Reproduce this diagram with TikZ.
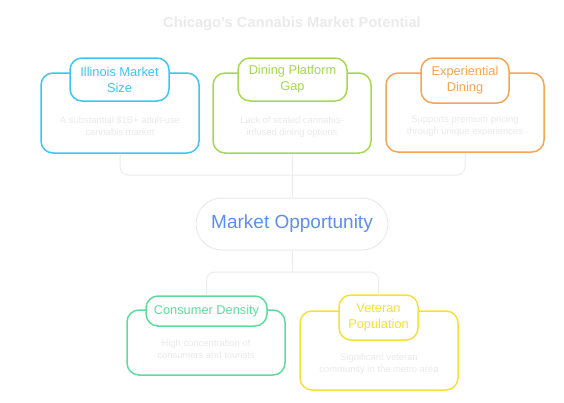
\documentclass[tikz,border=0pt]{standalone}
\usepackage{fontspec}
\setmainfont{Liberation Sans}
\definecolor{cyanc}{HTML}{3CC6F2}
\definecolor{greenc}{HTML}{A6D94C}
\definecolor{orangec}{HTML}{F7A455}
\definecolor{mintc}{HTML}{5FDC9C}
\definecolor{yellowc}{HTML}{F8E03A}
\definecolor{bluec}{HTML}{5B8FF5}
\definecolor{linec}{HTML}{EBEBEB}
\definecolor{paletext}{HTML}{EAEAEA}
\tikzset{
  bigbox/.style={draw=#1, line width=1.5pt, rounded corners=12pt, fill=white},
  pill/.style={draw=#1, text=#1, line width=1.5pt, rounded corners=12pt, fill=white,
    align=center, font=\fontsize{12.8}{16}\selectfont, inner sep=0pt},
  desc/.style={text=paletext, align=center, font=\fontsize{9.4}{12}\selectfont},
  conn/.style={draw=linec, line width=1pt, rounded corners=8pt},
}
\begin{document}
\begin{tikzpicture}[x=1pt,y=-1pt]
        \useasboundingbox (0,0) rectangle (564,402);
        \node[text=paletext, font=\bfseries\fontsize{14.7}{17}\selectfont] (T) at (292,24) {Chicago's Cannabis Market Potential};
        % top row
        \node[bigbox=cyanc, minimum width=158pt, minimum height=80pt] (IB) at (120,113) {};
        \node[bigbox=greenc, minimum width=158pt, minimum height=80pt] (DB) at (292,113) {};
        \node[bigbox=orangec, minimum width=158pt, minimum height=79pt] (EB) at (465,112.5) {};
        \node[desc] (ID) at (120,126) {A substantial \$1B+ adult-use\\cannabis market};
        \node[desc] (DD) at (292,127) {Lack of scaled cannabis-\\infused dining options};
        \node[desc] (ED) at (465,126) {Supports premium pricing\\through unique experiences};
        \node[pill=cyanc, minimum width=99pt, minimum height=43pt] (IP) at (119.5,79.5) {Illinois Market\\Size};
        \node[pill=greenc, minimum width=109pt, minimum height=43pt] (DP) at (292.5,79.5) {Dining Platform\\Gap};
        \node[pill=orangec, minimum width=88pt, minimum height=45pt] (EP) at (465,80.5) {Experiential\\Dining};
        % centre
        \node[draw=linec, line width=1pt, fill=white, rounded corners=26pt, minimum width=192pt, minimum height=52pt,
          text=bluec, font=\fontsize{19}{22}\selectfont] (MO) at (292,224) {Market Opportunity};
        \coordinate (J1) at (292,175);
        \coordinate (J2) at (292,272);
        \draw[conn] (IB.south) |- (J1) -| (EB.south);
        \draw[conn] (DB.south) -- (MO.north);
        \draw[conn] (MO.south) -- (J2);
        % bottom row
        \node[bigbox=mintc, minimum width=158pt, minimum height=65pt] (CB) at (206,342.5) {};
        \node[bigbox=yellowc, minimum width=158pt, minimum height=79pt] (VB) at (379,350.5) {};
        \node[desc] (CD) at (206,349) {High concentration of\\consumers and tourists};
        \node[desc] (VD) at (379,364) {Significant veteran\\community in the metro area};
        \node[pill=mintc, minimum width=121pt, minimum height=30pt] (CP) at (206.5,311) {Consumer Density};
        \node[pill=yellowc, minimum width=79pt, minimum height=45pt] (VP) at (378.5,317.5) {Veteran\\Population};
        \draw[conn] (CP.north) |- (J2) -| (VP.north);
\end{tikzpicture}
\end{document}
